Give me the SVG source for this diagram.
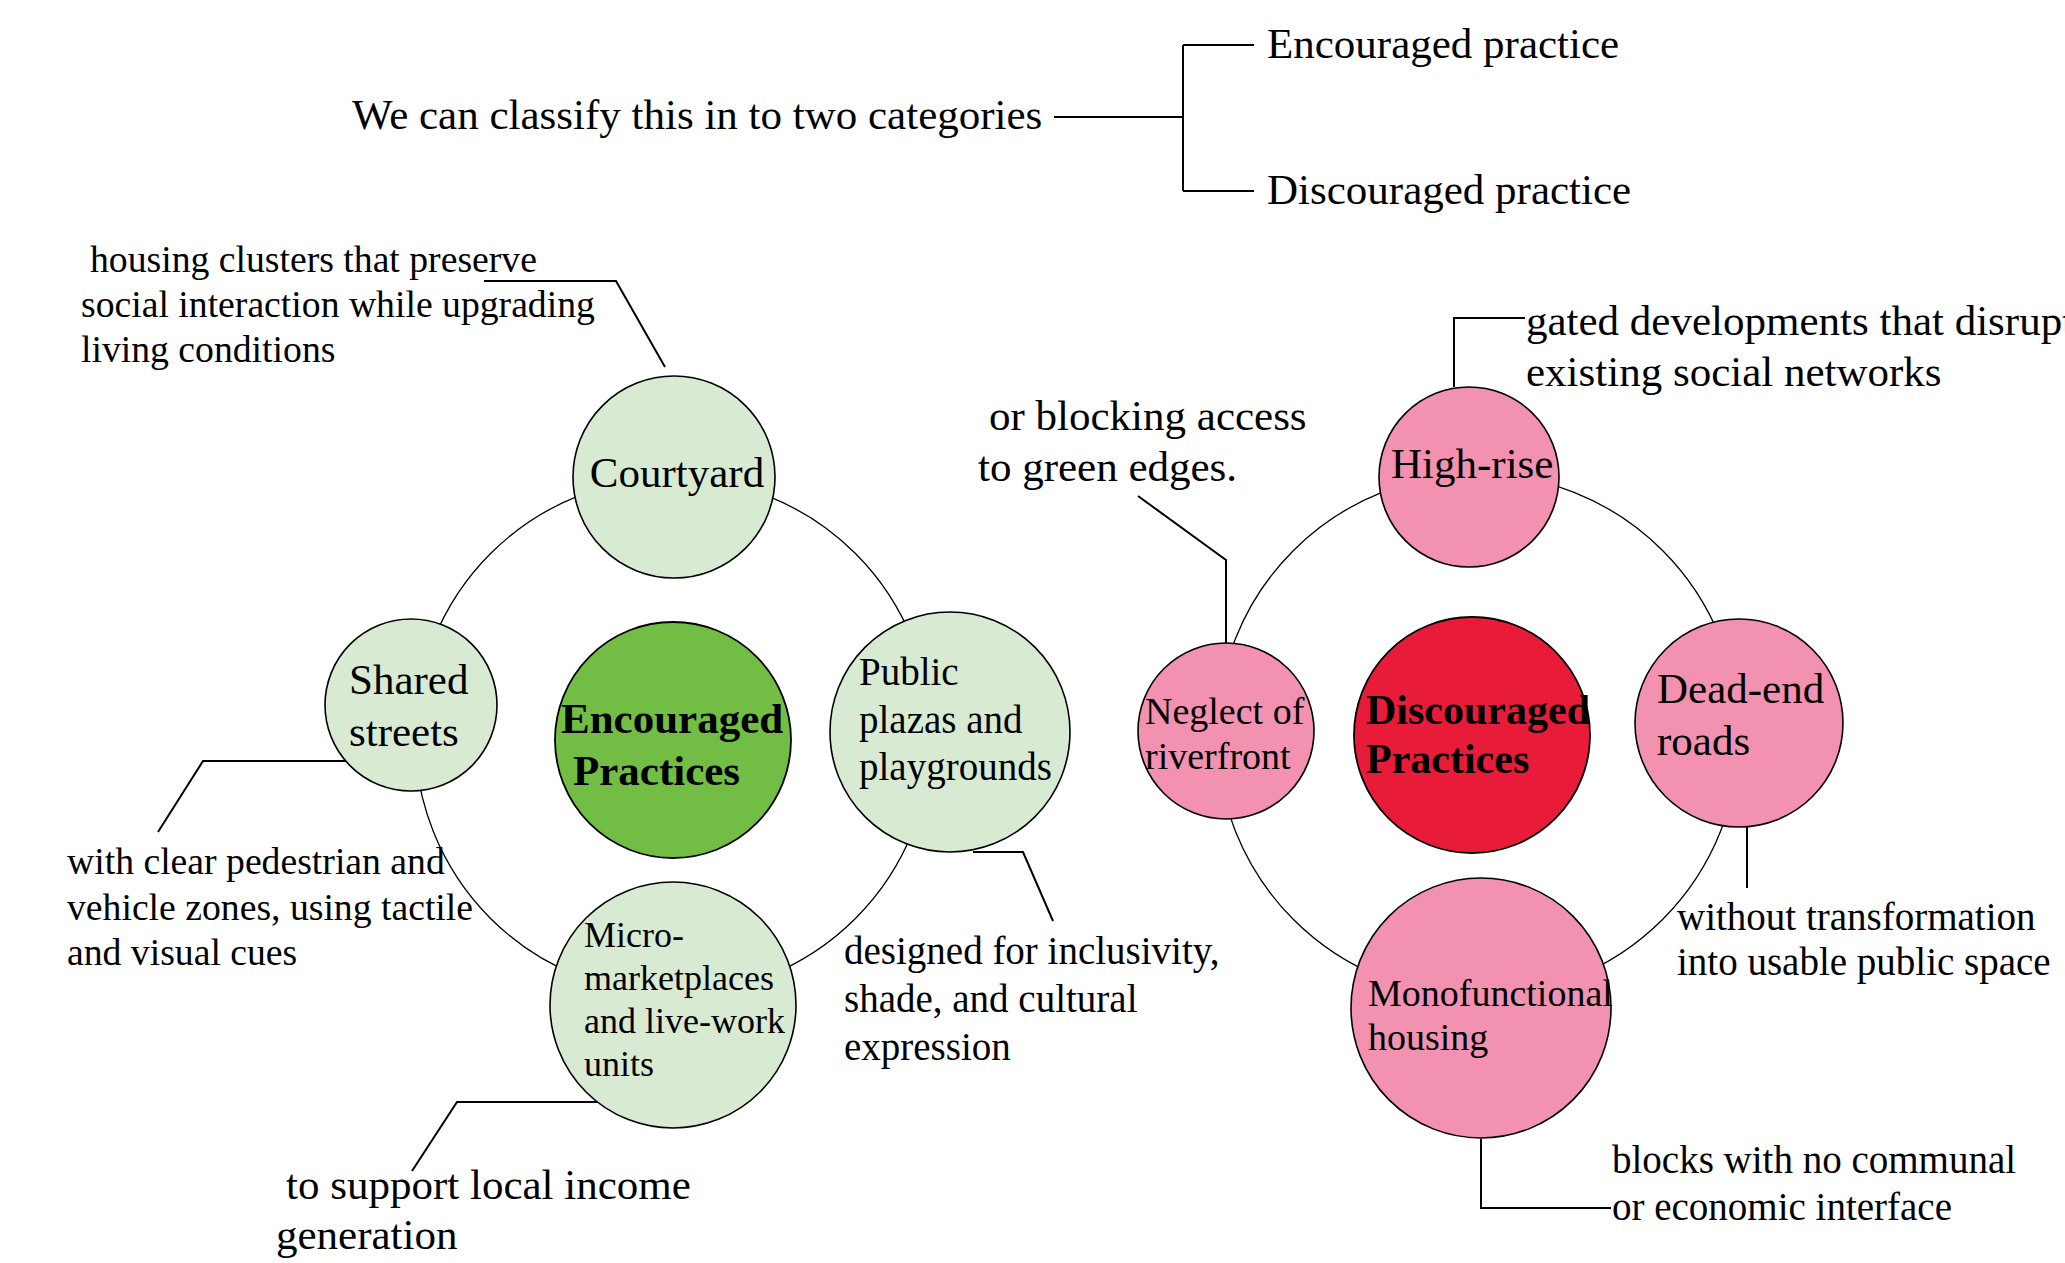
<svg xmlns="http://www.w3.org/2000/svg" width="2065" height="1263" viewBox="0 0 2065 1263">
<style>
text{font-family:"Liberation Serif","Times New Roman",serif;fill:#000}
.f43{font-size:43px}
.f42{font-size:42px}
.f39{font-size:39px}
.f38{font-size:38px}
.f37{font-size:37.7px}
.f36{font-size:36px}
.b{font-weight:bold}
.ring{fill:none;stroke:#000;stroke-width:1.3}
.lead{fill:none;stroke:#000;stroke-width:2}
.lg{fill:#D9EAD3;stroke:#000;stroke-width:1.6}
.dg{fill:#72BE44;stroke:#000;stroke-width:1.8}
.pk{fill:#F292B0;stroke:#000;stroke-width:1.6}
.rd{fill:#E81C38;stroke:#000;stroke-width:1.8}
</style>
<rect width="2065" height="1263" fill="#fff"/>

<g id="connectors">
  <path class="lead" d="M1054 117 H1183 M1183 45 V191 M1183 45 H1254 M1183 191 H1254"/>
  <circle class="ring" cx="673" cy="736" r="258"/>
  <circle class="ring" cx="1478" cy="735" r="261"/>
  <path class="lead" d="M484 281 H616 L665 367"/>
  <path class="lead" d="M347 761 H203 L158 832"/>
  <path class="lead" d="M973 852 H1023 L1053 921"/>
  <path class="lead" d="M598 1102 H457 L412 1171"/>
  <path class="lead" d="M1454 387 V318 H1525"/>
  <path class="lead" d="M1226 643 V560 L1138 496"/>
  <path class="lead" d="M1747 827 V888"/>
  <path class="lead" d="M1481 1139 V1208 H1611"/>
</g>

<g id="header">
  <text class="f43" x="352" y="129">We can classify this in to two categories</text>
  <text class="f43" x="1267" y="58">Encouraged practice</text>
  <text class="f43" x="1267" y="204">Discouraged practice</text>
</g>

<g id="courtyard">
  <circle class="lg" cx="674" cy="477" r="101"/>
  <text class="f43" x="677" y="487" text-anchor="middle">Courtyard</text>
</g>
<g id="shared-streets">
  <circle class="lg" cx="411" cy="705" r="86"/>
  <text class="f43" x="349" y="694">Shared</text>
  <text class="f43" x="349" y="746">streets</text>
</g>
<g id="encouraged-practices">
  <circle class="dg" cx="673" cy="740" r="118"/>
  <text class="f43 b" x="561" y="733">Encouraged</text>
  <text class="f43 b" x="573" y="785">Practices</text>
</g>
<g id="public-plazas">
  <circle class="lg" cx="950" cy="732" r="120"/>
  <text class="f39" x="859" y="685">Public</text>
  <text class="f39" x="859" y="733">plazas and</text>
  <text class="f39" x="859" y="780">playgrounds</text>
</g>
<g id="micro-marketplaces">
  <circle class="lg" cx="673" cy="1005" r="123"/>
  <text class="f36" x="584" y="947">Micro-</text>
  <text class="f36" x="584" y="990">marketplaces</text>
  <text class="f36" x="584" y="1033">and live-work</text>
  <text class="f36" x="584" y="1076">units</text>
</g>

<g id="high-rise">
  <circle class="pk" cx="1469" cy="477" r="90"/>
  <text class="f43" x="1391" y="478">High-rise</text>
</g>
<g id="neglect-riverfront">
  <circle class="pk" cx="1226" cy="731" r="88"/>
  <text class="f38" x="1145" y="724">Neglect of</text>
  <text class="f38" x="1145" y="769">riverfront</text>
</g>
<g id="discouraged-practices">
  <circle class="rd" cx="1472" cy="735" r="118"/>
  <text class="f42 b" x="1366" y="724">Discouraged</text>
  <text class="f42 b" x="1366" y="773">Practices</text>
</g>
<g id="dead-end-roads">
  <circle class="pk" cx="1739" cy="723" r="104"/>
  <text class="f43" x="1657" y="703">Dead-end</text>
  <text class="f43" x="1657" y="755">roads</text>
</g>
<g id="monofunctional-housing">
  <circle class="pk" cx="1481" cy="1008" r="130"/>
  <text class="f38" x="1368" y="1006">Monofunctional</text>
  <text class="f38" x="1368" y="1050">housing</text>
</g>

<g id="notes">
  <text class="f37" x="90" y="272">housing clusters that preserve</text>
  <text class="f37" x="81" y="317">social interaction while upgrading</text>
  <text class="f37" x="81" y="362">living conditions</text>
  <text class="f37" x="67" y="874">with clear pedestrian and</text>
  <text class="f37" x="67" y="920">vehicle zones, using tactile</text>
  <text class="f37" x="67" y="965">and visual cues</text>
  <text class="f39" x="844" y="964">designed for inclusivity,</text>
  <text class="f39" x="844" y="1012">shade, and cultural</text>
  <text class="f39" x="844" y="1060">expression</text>
  <text class="f43" x="286" y="1199">to support local income</text>
  <text class="f43" x="276" y="1249">generation</text>
  <text class="f43" x="1526" y="335">gated developments that disrupt</text>
  <text class="f43" x="1526" y="386">existing social networks</text>
  <text class="f43" x="989" y="430">or blocking access</text>
  <text class="f43" x="978" y="481">to green edges.</text>
  <text class="f39" x="1677" y="930">without transformation</text>
  <text class="f39" x="1677" y="975">into usable public space</text>
  <text class="f39" x="1612" y="1173">blocks with no communal</text>
  <text class="f39" x="1612" y="1220">or economic interface</text>
</g>
</svg>
